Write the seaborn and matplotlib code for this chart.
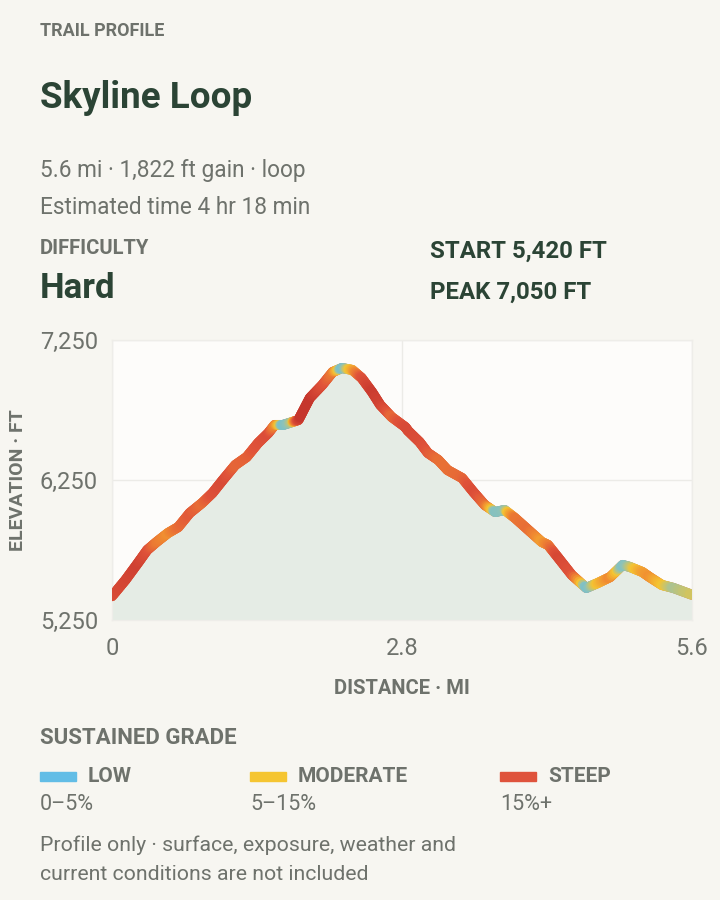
import numpy as np
import matplotlib
matplotlib.use("Agg")
import matplotlib.pyplot as plt
from matplotlib.collections import LineCollection
from matplotlib.colors import LinearSegmentedColormap, Normalize
import seaborn as sns

# trail profile (miles, feet)
distance_mi = [0.00, 0.13, 0.25, 0.34, 0.43, 0.54, 0.64, 0.75, 0.87, 0.97,
               1.07, 1.19, 1.30, 1.41, 1.51, 1.57, 1.65, 1.74, 1.80, 1.84,
               1.91, 2.03, 2.13, 2.22, 2.32, 2.41, 2.51, 2.59, 2.70, 2.83,
               2.86, 2.97, 3.05, 3.15, 3.24, 3.38, 3.49, 3.60, 3.70, 3.79,
               3.89, 4.02, 4.15, 4.21, 4.31, 4.44, 4.58, 4.69, 4.81, 4.93,
               5.00, 5.12, 5.19, 5.31, 5.42, 5.60]
elevation_ft = [5420, 5536, 5657, 5750, 5807, 5871, 5914, 6014, 6086, 6157,
                6250, 6357, 6414, 6514, 6586, 6643, 6643, 6664, 6679, 6736,
                6836, 6929, 7021, 7050, 7036, 6979, 6879, 6786, 6700, 6629,
                6600, 6521, 6443, 6393, 6321, 6264, 6164, 6071, 6021, 6036,
                5979, 5893, 5807, 5786, 5693, 5571, 5479, 5514, 5557, 5643,
                5629, 5593, 5557, 5500, 5479, 5430]

y_ticks = [5250, 6250, 7250]
x_ticks = [0, 2.8, 5.6]
x_tick_labels = ["0", "2.8", "5.6"]

grade_names = ["LOW", "MODERATE", "STEEP"]
grade_ranges = ["0\u20135%", "5\u201315%", "15%+"]
grade_colors = ["#62BDE6", "#F5C531", "#DF533C"]

BG = "#F7F6F1"
DARK = "#2B4435"
GRAY = "#6E726C"

sns.set_theme(style="white")
plt.rcParams["font.family"] = ["Roboto", "DejaVu Sans"]

fig = plt.figure(figsize=(7.2, 9), dpi=100, facecolor=BG)
ax = fig.add_axes([112 / 720, 1 - 620 / 900, 580 / 720, 280 / 900])
ax.set_facecolor("#FDFCFA")

x = np.array(distance_mi)
y = np.array(elevation_ft)

ax.fill_between(x, y, 5250, color="#E5ECE5", lw=0, zorder=1)
sns.lineplot(x=x, y=y, ax=ax, color="#E5683A", lw=7.2, zorder=2,
             solid_capstyle="round", estimator=None, sort=False)

# colour each stretch by its grade (rise over run)
grade = np.abs(np.gradient(y, x * 5280))
cmap = LinearSegmentedColormap.from_list(
    "grade", [(0.0, "#5BBDE8"), (0.16, "#8EC2B8"), (0.27, "#F5C531"),
              (0.45, "#F08A31"), (0.68, "#E0533A"), (1.0, "#C5362D")])
norm = Normalize(0, 0.22)
segs, cols = [], []
for i in range(len(x) - 1):
    t = np.linspace(0, 1, 9)
    xs = x[i] + (x[i + 1] - x[i]) * t
    ys = y[i] + (y[i + 1] - y[i]) * t
    gs = grade[i] + (grade[i + 1] - grade[i]) * t
    for j in range(len(t) - 1):
        segs.append([(xs[j], ys[j]), (xs[j + 1], ys[j + 1])])
        cols.append(cmap(norm((gs[j] + gs[j + 1]) / 2)))
lc = LineCollection(segs, colors=cols, linewidths=7.2, capstyle="round", zorder=3)
ax.add_collection(lc)

ax.set_xlim(0, 5.6)
ax.set_ylim(5250, 7250)
ax.set_xticks(x_ticks)
ax.set_xticklabels(x_tick_labels)
ax.set_yticks(y_ticks)
ax.set_yticklabels([f"{v:,}" for v in y_ticks])
ax.tick_params(axis="both", length=0, labelsize=17, colors=GRAY, pad=10)
ax.tick_params(axis="x", pad=12)
ax.grid(True, color="#ECEBE7", lw=1)
ax.set_axisbelow(True)
for s in ax.spines.values():
    s.set_color("#EEEDE9")
    s.set_linewidth(1)
ax.set_xlabel("DISTANCE \u00b7 MI", fontsize=14.5, fontweight="bold", color=GRAY, labelpad=14)
ax.set_ylabel("")
fig.text(18 / 720, 1 - 480 / 900, "ELEVATION \u00b7 FT", rotation=90, fontsize=14,
         fontweight="bold", color=GRAY, ha="center", va="center")


def put(px, py, s, size, bold=False, color=GRAY, ha="left"):
    fig.text(px / 720, 1 - py / 900, s, fontsize=size, color=color, ha=ha,
             va="center", fontweight="bold" if bold else "normal")


put(40, 31, "TRAIL PROFILE", 13, True)
put(40, 98, "Skyline Loop", 26.5, True, DARK)
put(40, 170, "5.6 mi \u00b7 1,822 ft gain \u00b7 loop", 16.3)
put(40, 208, "Estimated time 4 hr 18 min", 16.3)
put(40, 248, "DIFFICULTY", 14.5, True)
put(40, 288, "Hard", 25, True, DARK)
put(430, 251, "START 5,420 FT", 17.3, True, DARK)
put(430, 292, "PEAK 7,050 FT", 17.3, True, DARK)

put(40, 738, "SUSTAINED GRADE", 16, True)
for k, lx in enumerate([40, 250, 500]):
    fig.patches.append(plt.Rectangle((lx / 720, 1 - 781 / 900), 36 / 720, 9 / 900,
                                     transform=fig.transFigure, color=grade_colors[k]))
    put(lx + 48, 777, grade_names[k], 15, True)
    put(lx, 805, grade_ranges[k], 15.5)

put(40, 845, "Profile only \u00b7 surface, exposure, weather and", 15.3)
put(40, 875, "current conditions are not included", 15.3)

fig.savefig("out.png", dpi=100, facecolor=BG)
